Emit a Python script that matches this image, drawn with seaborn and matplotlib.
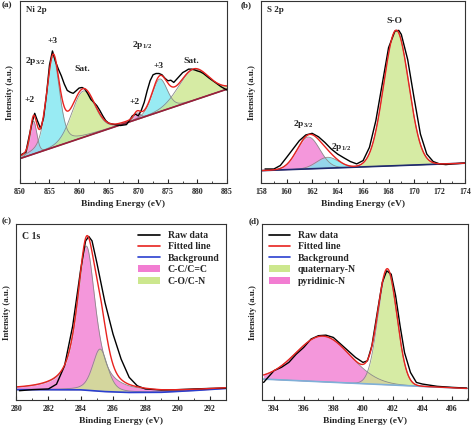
import numpy as np
import matplotlib
matplotlib.use("Agg")
import matplotlib.pyplot as plt
import seaborn as sns
from matplotlib.lines import Line2D
from matplotlib.patches import Patch
from matplotlib.ticker import MultipleLocator, AutoMinorLocator

# ---- data (intensity in a.u., 0-100 = axis height) ----
# (a) Ni 2p
ni_x = [850, 851, 852, 852.5, 853, 853.5, 854, 854.5, 855, 855.5, 856, 856.5, 857, 857.5,
        858, 858.5, 859, 859.5, 860, 860.5, 861, 861.5, 862, 862.5, 863, 863.5, 864, 864.5,
        865, 866, 867, 868, 868.5, 869, 869.5, 870, 870.5, 871, 871.5, 872, 872.5, 873,
        873.5, 874, 874.5, 875, 875.5, 876, 876.5, 877, 877.5, 878, 878.5, 879, 879.5,
        880, 880.5, 881, 882, 883, 884, 885]
ni_y = [15.3, 17, 32.6, 38.4, 34, 30, 36, 49, 65, 72.7, 67, 62.7, 59, 54.5,
        51, 50, 49.4, 50.8, 52.3, 52.6, 51.7, 49, 46, 44.4, 42.6, 40, 37, 34.4,
        33, 32.2, 31.7, 32.2, 34.4, 37, 38, 37, 40, 44.4, 50.8, 56.3, 59.6, 60.3,
        60.3, 59.6, 57.7, 56.3, 56.6, 55.4, 57.2, 59, 60.8, 61.7, 62.7, 62.7, 62.3,
        61.7, 61.2, 60.3, 57.7, 55.4, 53, 51.2]
ni_bg_x = [850, 885]
ni_bg_y = [13.5, 51.7]
# components: label, centre (eV), height above background, FWHM, lorentz share, fill
ni_peaks = [("+2", 852.3, 18, 1.3, 0.2, "pink"),
            ("+3", 855.6, 50, 2.6, 0.4, "cyan"),
            ("Sat.", 860.7, 25.5, 4.6, 0.1, "green"),
            ("+2", 869.8, 3.5, 1.3, 0.2, "pink"),
            ("+3", 873.6, 18, 3.0, 0.2, "cyan"),
            ("Sat.", 879.3, 17, 6.0, 0.1, "green")]

# (b) S 2p
s_x = [158.3, 159, 159.5, 160, 160.5, 161, 161.5, 162, 162.5, 163, 163.5, 164, 164.5, 165,
       165.5, 166, 166.5, 167, 167.5, 168, 168.5, 168.8, 169, 169.5, 170, 170.5, 171, 171.5,
       172, 172.5, 173, 174]
s_y = [7.8, 7.8, 9.7, 14.2, 18.8, 23.4, 26.5, 27.4, 25.5, 22.4, 18.8, 16, 13.9, 11.9,
       10.6, 12.4, 19.7, 34.3, 54.4, 74.5, 83.6, 84, 81.8, 68, 47, 27, 16, 11.9,
       10.6, 10.2, 10.6, 11]
s_bg_x = [158, 174]
s_bg_y = [6.9, 11]
s_peaks = [("2p3/2", 161.7, 17.5, 2.1, 0.0, "pink"),
           ("2p1/2", 163.2, 6, 2.0, 0.0, "cyan"),
           ("S-O", 168.6, 74.5, 2.3, 0.0, "green")]

# (c) C 1s
c_x = [280.2, 281, 282, 282.5, 283, 283.5, 284, 284.3, 284.5, 284.7, 285, 285.5, 286,
       286.5, 287, 287.5, 288, 289, 290, 291, 292, 293]
c_y = [5.3, 5.9, 6.3, 9, 19.5, 42, 74.4, 90.5, 93, 90.5, 78, 55.5, 37.5,
       23.3, 12.9, 8.1, 6.3, 5.7, 5.9, 6.3, 6.6, 6.8]
c_bg_x = [280, 284, 285.5, 287, 289, 291, 293]
c_bg_y = [5.9, 5.8, 4.8, 4.3, 4.4, 5.4, 6.6]
c_peaks = [("C-C/C=C", 284.35, 82, 1.35, 0.75, "pink"),
           ("C-O/C-N", 285.2, 24, 1.1, 0.4, "green")]

# (d) N 1s
n_x = [393.3, 393.6, 394, 394.5, 395, 395.5, 396, 396.5, 397, 397.5, 398, 398.5, 399,
       399.5, 400, 400.3, 400.6, 401, 401.3, 401.6, 401.9, 402.2, 402.5, 402.8, 403.2,
       403.6, 404, 405, 406, 407]
n_y = [10, 12.9, 16.7, 18.6, 21.4, 26.1, 29.9, 34.7, 36.6, 36.9, 35.6, 31.8, 28,
       24.2, 21.4, 22.3, 30.9, 51.7, 66.9, 73.5, 71.6, 59.3, 42.2, 27, 15.7,
       10, 9.1, 7.8, 7.2, 6.8]
n_bg_x = [393.3, 407]
n_bg_y = [11.9, 6.6]
n_peaks = [("pyridinic-N", 397.3, 26, 4.3, 0.0, "pink"),
           ("quaternary-N", 401.65, 64.5, 1.5, 0.0, "green")]

fills = {"pink": "#f27dd2", "cyan": "#7ee6f0", "green": "#cce78e"}


def peak(x, c, h, w, eta):
    # pseudo-Voigt line shape used for the fitted components
    g = np.exp(-4 * np.log(2) * ((x - c) / w) ** 2)
    l = 1 / (1 + 4 * ((x - c) / w) ** 2)
    return h * ((1 - eta) * g + eta * l)


def draw(ax, rx, ry, bgx, bgy, peaks, xlim, bgcol):
    x = np.linspace(xlim[0], xlim[1], 600)
    bg = np.interp(x, bgx, bgy)
    total = bg.copy()
    for lab, c, h, w, eta, col in peaks:
        comp = peak(x, c, h, w, eta)
        total += comp
        ax.fill_between(x, bg, bg + comp, color=fills[col], alpha=0.8, lw=0)
        sns.lineplot(x=x, y=bg + comp, ax=ax, color="#8a8a8a", lw=0.6, sort=False, estimator=None)
    sns.lineplot(x=bgx, y=bgy, ax=ax, color=bgcol, lw=1.2, sort=False, estimator=None)
    sns.lineplot(x=rx, y=ry, ax=ax, color="black", lw=1.0, sort=False, estimator=None)
    sns.lineplot(x=x, y=total, ax=ax, color="#e8231f", lw=1.0, sort=False, estimator=None)


sns.set_style("ticks")
plt.rcParams["font.family"] = ["Liberation Serif", "DejaVu Serif"]
plt.rcParams["font.weight"] = "bold"
plt.rcParams["mathtext.fontset"] = "custom"
plt.rcParams["mathtext.bf"] = "Liberation Serif:bold"

fig = plt.figure(figsize=(4.74, 4.32), dpi=100)
ax_a = fig.add_axes([0.042, 0.576, 0.437, 0.421])
ax_b = fig.add_axes([0.551, 0.576, 0.430, 0.421])
ax_c = fig.add_axes([0.034, 0.074, 0.443, 0.407])
ax_d = fig.add_axes([0.553, 0.074, 0.435, 0.407])

draw(ax_a, ni_x, ni_y, ni_bg_x, ni_bg_y, ni_peaks, (850, 885), "#9b1d3a")
draw(ax_b, s_x, s_y, s_bg_x, s_bg_y, s_peaks, (158, 174), "#1f2a6e")
draw(ax_c, c_x, c_y, c_bg_x, c_bg_y, c_peaks, (280, 293), "#2a3fd0")
draw(ax_d, n_x, n_y, n_bg_x, n_bg_y, n_peaks, (393.3, 407), "#7fb0d8")

for ax, xl, step in [(ax_a, (850, 885), 5), (ax_b, (158, 174), 2),
                     (ax_c, (280, 293), 2), (ax_d, (393.2, 407.1), 2)]:
    ax.set_xlim(*xl)
    ax.set_ylim(0, 100)
    ax.xaxis.set_major_locator(MultipleLocator(step))
    ax.xaxis.set_minor_locator(AutoMinorLocator(2))
    ax.set_yticks([])
    ax.tick_params(axis="x", which="major", direction="in", length=3, width=0.8,
                   labelsize=5.7, pad=3.5)
    ax.tick_params(axis="x", which="minor", direction="in", length=1.8, width=0.6)
    ax.set_xlabel("Binding Energy (eV)", fontsize=6.8, fontweight="bold", labelpad=3)
    ax.set_ylabel("Intensity (a.u.)", fontsize=6.4, fontweight="bold", labelpad=4)
    for sp in ax.spines.values():
        sp.set_linewidth(0.8)
        sp.set_color("#333333")
    for t in ax.get_xticklabels():
        t.set_fontweight("bold")

ax_c.set_xticks([280, 282, 284, 286, 288, 290, 292])
ax_d.set_xticks([394, 396, 398, 400, 402, 404, 406])

ann = dict(fontsize=6.8, fontweight="bold", ha="center", va="center")
ax_a.text(0.03, 0.95, "Ni 2p", transform=ax_a.transAxes, fontsize=6.5, fontweight="bold", va="center")
ax_a.text(852.5, 67, r"2p$_{\mathbf{3/2}}$", **ann)
ax_a.text(855.6, 78, "+3", **ann)
ax_a.text(860.5, 63, "Sat.", **ann)
ax_a.text(851.7, 46, "+2", **ann)
ax_a.text(869.3, 44.5, "+2", **ann)
ax_a.text(870.7, 76, r"2p$_{\mathbf{1/2}}$", **ann)
ax_a.text(873.4, 64.5, "+3", **ann)
ax_a.text(879, 67, "Sat.", **ann)

ax_b.text(0.03, 0.95, "S 2p", transform=ax_b.transAxes, fontsize=6.5, fontweight="bold", va="center")
ax_b.text(161.3, 32.5, r"2p$_{\mathbf{3/2}}$", **ann)
ax_b.text(164.3, 19.7, r"2p$_{\mathbf{1/2}}$", **ann)
ax_b.text(168.5, 89, "S-O", **ann)

ax_c.text(0.03, 0.93, "C 1s", transform=ax_c.transAxes, fontsize=7, fontweight="bold", va="center")

def handles(p1, p2):
    return [Line2D([], [], color="black", lw=1.2, label="Raw data"),
            Line2D([], [], color="#e8231f", lw=1.2, label="Fitted line"),
            Line2D([], [], color="#2a3fd0", lw=1.2, label="Background"),
            Patch(facecolor=fills[p1[1]], edgecolor="none", label=p1[0]),
            Patch(facecolor=fills[p2[1]], edgecolor="none", label=p2[0])]

ax_c.legend(handles=handles(("C-C/C=C", "pink"), ("C-O/C-N", "green")), loc="upper right",
            frameon=False, prop={"weight": "bold", "size": 7},
            handlelength=2.2, labelspacing=0.25, borderaxespad=0.3)
ax_d.legend(handles=handles(("quaternary-N", "green"), ("pyridinic-N", "pink")), loc="upper left",
            frameon=False, prop={"weight": "bold", "size": 7},
            handlelength=2.2, labelspacing=0.25, borderaxespad=0.3)

for lab, x, y in [("(a)", 0.004, 0.988), ("(b)", 0.508, 0.988), ("(c)", 0.004, 0.488), ("(d)", 0.525, 0.488)]:
    fig.text(x, y, lab, fontsize=6.5, fontweight="bold", va="center")

fig.savefig("out.png", dpi=100)
